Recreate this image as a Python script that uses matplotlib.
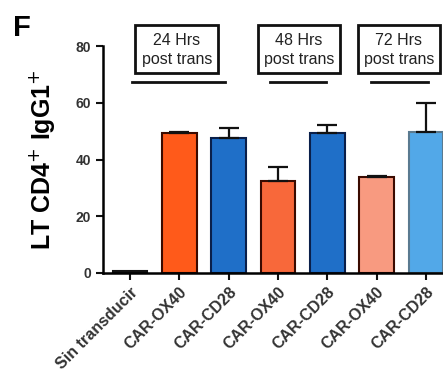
import numpy as np
import matplotlib.pyplot as plt
from matplotlib.patches import Rectangle

plt.rcParams['font.family'] = ['Liberation Sans', 'DejaVu Sans']

# data
labels = ["Sin transducir", "CAR-OX40", "CAR-CD28", "CAR-OX40", "CAR-CD28", "CAR-OX40", "CAR-CD28"]
values = [0.5, 49.3, 47.5, 32.4, 49.3, 33.8, 49.7]
errors = [0.0, 0.5, 3.5, 5.0, 2.7, 0.5, 10.3]
colors = ["#f4f4f4", "#ff5a1a", "#1f6fc8", "#f8683a", "#1f6fc8", "#f89a80", "#52a8e8"]
edges = ["#111111", "#3a0a00", "#0a1f4a", "#3a0a00", "#0a1f4a", "#3a0a00", "#5a7a90"]
groups = ["24 Hrs\npost trans", "48 Hrs\npost trans", "72 Hrs\npost trans"]
group_lines = [(0.04, 1.93), (2.83, 3.98), (4.88, 6.04)]
group_boxes = [(0.10, 1.79), (2.59, 4.26), (4.62, 6.28)]

fig = plt.figure(figsize=(4.43, 3.78), dpi=100)
ax = fig.add_axes([0.2325, 0.278, 0.77, 0.6])

x = np.arange(len(values))
ax.bar(x, values, width=0.7, color=colors, edgecolor=edges, linewidth=1.5, zorder=2)
# error bars (upper only)
for xi, v, e in zip(x, values, errors):
    if e > 0:
        ax.errorbar(xi, v, yerr=[[0], [e]], fmt='none', ecolor='#111111',
                    elinewidth=1.6, capsize=7, capthick=1.6, zorder=3)

ax.set_xlim(-0.55, 6.37)
ax.set_ylim(0, 80)
ax.set_yticks([0, 20, 40, 60, 80])
ax.set_yticklabels(['0', '20', '40', '60', '80'], fontsize=10, fontweight='bold', color='#333333')
ax.set_xticks(x)
ax.set_xticklabels(labels, rotation=45, ha='right', rotation_mode='anchor',
                   fontsize=11.5, fontweight='bold', color='#333333')
ax.tick_params(axis='both', width=1.5, length=5, color='#111111')
ax.spines['top'].set_visible(False)
ax.spines['right'].set_visible(False)
ax.spines['left'].set_linewidth(1.8)
ax.spines['bottom'].set_linewidth(1.8)
ax.set_ylabel('LT CD4$^{+}$ IgG1$^{+}$', fontsize=18, fontweight='bold')
ax.yaxis.set_label_coords(-0.135, 0.5)

# group lines and boxes
for (x0, x1), (b0, b1), g in zip(group_lines, group_boxes, groups):
    ax.plot([x0, x1], [67.3, 67.3], color='#111111', lw=2, clip_on=False)
    ax.add_patch(Rectangle((b0, 70.5), b1 - b0, 16.9, fill=False, edgecolor='#111111',
                           lw=2, clip_on=False))
    ax.text((b0 + b1) / 2, 78.7, g, ha='center', va='center', fontsize=11.5,
            linespacing=1.3, color='#222222', clip_on=False)

fig.text(0.03, 0.905, 'F', fontsize=21, fontweight='bold')

fig.savefig('out.png', dpi=100)
